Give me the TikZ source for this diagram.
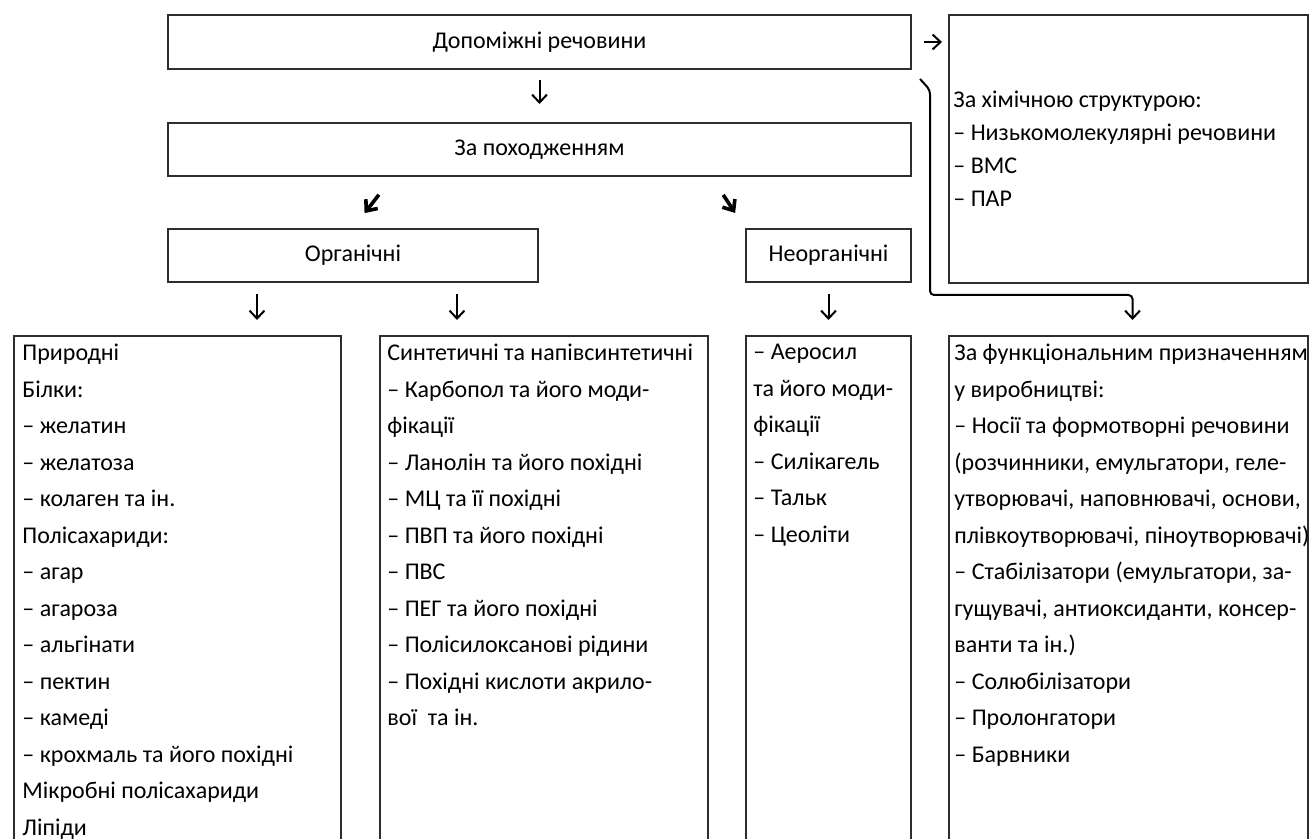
\documentclass[tikz,border=0pt]{standalone}
\usepackage{fontspec}
\setmainfont{Carlito}
\usepackage{xcolor}
\usetikzlibrary{arrows.meta, positioning}
\definecolor{grisoscuro}{RGB}{45, 45, 45}

\begin{document}
\begin{tikzpicture}[x=0.5pt, y=-0.5pt,
    box/.style={rectangle, draw=grisoscuro, line width=1pt, fill=white, anchor=north west,
                inner sep=0pt, font=\fontsize{12}{18}\selectfont},
    listtxt/.style={align=left, inner sep=0pt, font=\fontsize{12}{18.25}\selectfont},
    arrow/.style={-{Straight Barb[length=4pt, width=7.5pt]}, line width=1pt, black},
    diag/.style={-{Straight Barb[length=4.5pt, width=7.5pt]}, line width=1.8pt, black}
]
\fill [white] (0,0) rectangle (1311,839);
\useasboundingbox (0,0) rectangle (1311,839);
\node (top) [box, minimum width=371.5pt, minimum height=27pt] at (167,14) {Допоміжні речовини};
\node (origin) [box, minimum width=371.5pt, minimum height=26.5pt] at (167,122) {За походженням};
\node (org) [box, minimum width=185pt, minimum height=26.5pt] at (167,228) {Органічні};
\node (inorg) [box, minimum width=82.5pt, minimum height=26.5pt] at (745,228) {Неорганічні};
\node (chem) [box, minimum width=179.5pt, minimum height=134pt] at (948,14) {};
\node (nat) [box, minimum width=163.5pt, minimum height=262pt] at (13,335) {};
\node (syn) [box, minimum width=164pt, minimum height=262pt] at (379,335) {};
\node (min) [box, minimum width=82.5pt, minimum height=262pt] at (745,335) {};
\node (func) [box, minimum width=179.5pt, minimum height=262pt] at (948,335) {};
\node (chemlist) [listtxt, right=2.5pt of chem.west, anchor=west, font=\fontsize{12}{16.5}\selectfont]
    {За хімічною структурою:\\
     – Низькомолекулярні речовини\\
     – ВМС\\
     – ПАР};
\node (natlist) [listtxt, below right=4.5pt and 4.5pt of nat.north west]
    {Природні\\
     Білки:\\
     – желатин\\
     – желатоза\\
     – колаген та ін.\\
     Полісахариди:\\
     – агар\\
     – агароза\\
     – альгінати\\
     – пектин\\
     – камеді\\
     – крохмаль та його похідні\\
     Мікробні полісахариди\\
     Ліпіди};
\node (synlist) [listtxt, below right=4.5pt and 4pt of syn.north west]
    {Синтетичні та напівсинтетичні\\
     – Карбопол та його моди-\\
     фікації\\
     – Ланолін та його похідні\\
     – МЦ та її похідні\\
     – ПВП та його похідні\\
     – ПВС\\
     – ПЕГ та його похідні\\
     – Полісилоксанові рідини\\
     – Похідні кислоти акрило-\\
     вої\ \ та ін.};
\node (minlist) [listtxt, below right=4.5pt and 4pt of min.north west]
    {– Аеросил\\
     та його моди-\\
     фікації\\
     – Силікагель\\
     – Тальк\\
     – Цеоліти};
\node (funclist) [listtxt, below right=4.5pt and 3pt of func.north west]
    {За функціональним призначенням\\
     у виробництві:\\
     – Носії та формотворні речовини\\
     (розчинники, емульгатори, геле-\\
     утворювачі, наповнювачі, основи,\\
     плівкоутворювачі, піноутворювачі)\\
     – Стабілізатори (емульгатори, за-\\
     гущувачі, антиоксиданти, консер-\\
     ванти та ін.)\\
     – Солюбілізатори\\
     – Пролонгатори\\
     – Барвники};
\draw [arrow, shorten <=5pt, shorten >=9pt] (top.south) -- (origin.north);
\draw [arrow, shorten <=6pt, shorten >=3pt] (top.east) -- (top.east -| chem.west);
\draw [diag, shorten <=11.25pt, shorten >=9.4pt] ([xshift=-73.4pt]origin.south) -- (org.north);
\draw [diag, shorten <=10.7pt, shorten >=9pt] ([xshift=86pt]origin.south) -- (inorg.north west);
\draw [arrow, shorten <=5.5pt, shorten >=7.5pt] ([xshift=-48pt]org.south) -- ([xshift=-48pt]org.south |- nat.north);
\draw [arrow, shorten <=5.5pt, shorten >=7.5pt] ([xshift=52pt]org.south) -- ([xshift=52pt]org.south |- syn.north);
\draw [arrow, shorten <=5.5pt, shorten >=7.5pt] (inorg.south) -- (inorg.south |- min.north);
\draw [arrow, rounded corners=2pt, shorten >=7.5pt] ([shift={(8,9)}]top.south east) -- ++(10,11)
    |- ([shift={(4,-40)}]func.north) -- ([xshift=2pt]func.north);
\end{tikzpicture}
\end{document}
